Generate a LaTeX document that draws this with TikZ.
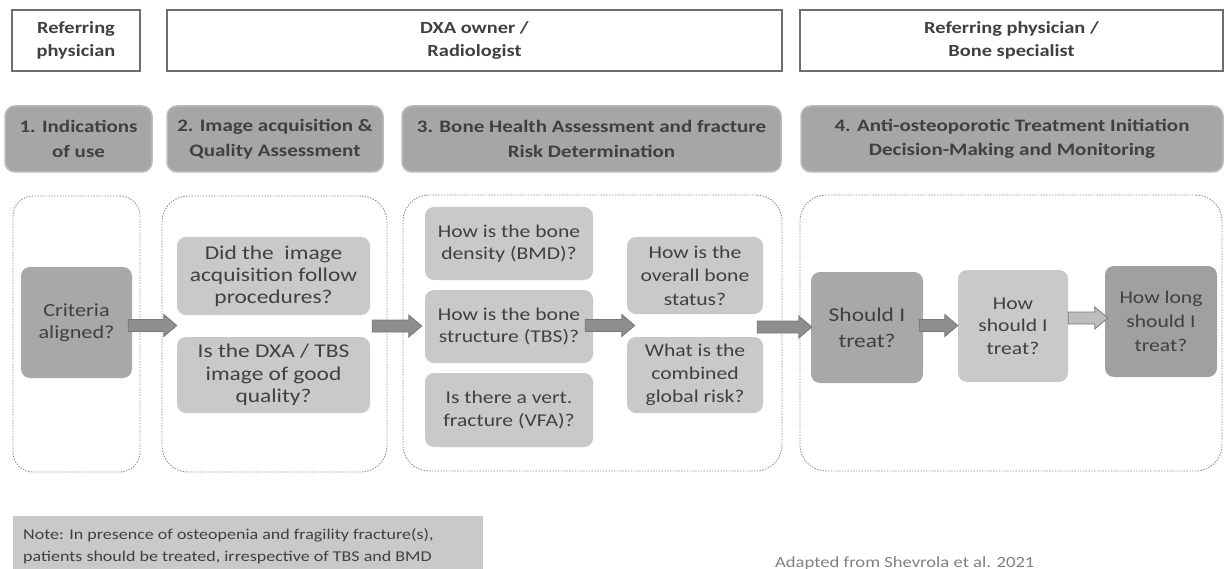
\documentclass[tikz,border=0pt]{standalone}
\usepackage{fontspec}
\setmainfont{Carlito}[FakeStretch=1.2]
\usetikzlibrary{calc}
\definecolor{txt}{HTML}{404040}
\definecolor{phasefill}{HTML}{A6A6A6}
\definecolor{phaseedge}{HTML}{BBBBBB}
\definecolor{qlight}{HTML}{C9C9C9}
\definecolor{qdark}{HTML}{A8A8A8}
\definecolor{qdarker}{HTML}{A0A0A0}
\definecolor{hdredge}{HTML}{6E6E6E}
\definecolor{dotc}{HTML}{8C8C8C}
\definecolor{arrfill}{HTML}{8E8E8E}
\definecolor{arredge}{HTML}{787878}
\definecolor{arrlight}{HTML}{BDBDBD}
\definecolor{srcc}{HTML}{808080}
\newcommand\blockarr[3][]{%
  \path[#1] let \p1=(#2), \p2=(#3) in
    (\x1,{\y1-6pt}) -- ({\x2-13pt},{\y1-6pt}) -- ({\x2-13pt},{\y1-11pt}) --
    (\x2,\y1) -- ({\x2-13pt},{\y1+11pt}) -- ({\x2-13pt},{\y1+6pt}) --
    (\x1,{\y1+6pt}) -- cycle;}
\begin{document}
\begin{tikzpicture}[x=1pt,y=-1pt,
  hdr/.style={draw=hdredge,line width=1.6pt,fill=white,inner sep=0pt,align=center,
    text=txt,font=\bfseries\fontsize{17}{23}\selectfont,minimum height=61pt},
  phase/.style={draw=phaseedge,line width=1.5pt,fill=phasefill,rounded corners=10pt,
    inner sep=0pt,align=center,text=txt,font=\bfseries\fontsize{17.5}{24.5}\selectfont,
    minimum height=66pt},
  cont/.style={draw=dotc,line width=0.9pt,dash pattern=on 1.4pt off 1.4pt,
    rounded corners=26pt,inner sep=0pt,minimum height=276pt},
  qbox/.style={rounded corners=9pt,inner sep=0pt,align=center,text=txt},
  light/.style={qbox,fill=qlight},
  dark/.style={qbox,fill=qdark},
  darker/.style={qbox,fill=qdarker},
  arr/.style={fill=arrfill,draw=arredge,line width=0.8pt},
  arrl/.style={fill=arrlight,draw=arredge,line width=0.8pt}]
\useasboundingbox (0,0) rectangle (1225,569);
% headers
\node[hdr,minimum width=128pt] (h1) at (76,40.5) {Referring\\physician};
\node[hdr,minimum width=615pt] (h2) at (474.5,40.5) {DXA owner /\\Radiologist};
\node[hdr,minimum width=423pt] (h3) at (1011.5,40.5) {Referring physician /\\Bone specialist};
% phases
\node[phase,minimum width=147pt] (p1) at (78.5,139) {1. Indications\\of use};
\node[phase,minimum width=216pt] (p2) at (275,139) {2. Image acquisition \&\\Quality Assessment};
\node[phase,minimum width=379pt] (p3) at (591.5,139) {3. Bone Health Assessment and fracture\\Risk Determination};
\node[phase,minimum width=422pt] (p4) at (1012,139) {4. Anti-osteoporotic Treatment Initiation\\Decision-Making and Monitoring};
% containers
\node[cont,minimum width=127pt,rounded corners=20pt] (c1) at (76.5,334) {};
\node[cont,minimum width=225pt] (c2) at (274.5,334) {};
\node[cont,minimum width=379pt] (c3) at (592.5,333) {};
\node[cont,minimum width=422pt] (c4) at (1011,333) {};
% boxes
\node[dark,minimum width=111pt,minimum height=111pt,font=\fontsize{18.5}{22}\selectfont] (crit) at (76.5,322.5) {Criteria\\aligned?};
\node[light,minimum width=193pt,minimum height=78pt,font=\fontsize{19.5}{22}\selectfont] (q1) at (273.5,276) {Did the\ \ image\\acquisition follow\\procedures?};
\node[light,minimum width=193pt,minimum height=76pt,font=\fontsize{19.5}{22.5}\selectfont] (q2) at (273.5,375) {Is the DXA / TBS\\image of good\\quality?};
\node[light,minimum width=168pt,minimum height=73pt,font=\fontsize{18}{21.5}\selectfont] (bmd) at (509,243.5) {How is the bone\\density (BMD)?};
\node[light,minimum width=168pt,minimum height=73pt,font=\fontsize{18}{21.5}\selectfont] (tbs) at (509,326.5) {How is the bone\\structure (TBS)?};
\node[light,minimum width=168pt,minimum height=74pt,font=\fontsize{18}{22.5}\selectfont] (vfa) at (509,410) {Is there a vert.\\fracture (VFA)?};
\node[light,minimum width=136pt,minimum height=77pt,font=\fontsize{18}{23.5}\selectfont] (ovr) at (695,275.5) {How is the\\overall bone\\status?};
\node[light,minimum width=136pt,minimum height=76pt,font=\fontsize{18}{23}\selectfont] (glob) at (695,375) {What is the\\combined\\global risk?};
\node[dark,minimum width=112pt,minimum height=111pt,font=\fontsize{19.5}{26}\selectfont] (sh) at (867,327.5) {Should I\\treat?};
\node[light,minimum width=110pt,minimum height=112pt,font=\fontsize{18}{22.5}\selectfont] (how) at (1013,326) {How\\should I\\treat?};
\node[darker,minimum width=112pt,minimum height=111pt,font=\fontsize{18}{24}\selectfont] (long) at (1161,321.5) {How long\\should I\\treat?};
% arrow end points
\coordinate (a1s) at ($(crit.east)+(-4,3)$);
\coordinate (a1e) at ($(q1.south west)!0.5!(q2.north west)$);
\coordinate (a2s) at ($(q1.south east)!0.5!(q2.north east)+(2,0)$);
\coordinate (a2e) at ($(tbs.west)+(-3,0)$);
\coordinate (a3s) at ($(tbs.east)+(-8,-1)$);
\coordinate (a3e) at ($(ovr.south west)!0.5!(glob.north west)+(8,0)$);
\coordinate (a4s) at ($(ovr.south east)!0.5!(glob.north east)+(-6,1.5)$);
\coordinate (a4e) at ($(sh.west)+(1,0)$);
\coordinate (a5s) at ($(sh.east)+(-4,-2)$);
\coordinate (a5e) at (how.west);
\coordinate (a6s) at ($(how.east)+(0,-8)$);
\coordinate (a6e) at ($(long.west)+(3,0)$);
\blockarr[arr]{a1s}{a1e}
\blockarr[arr]{a2s}{a2e}
\blockarr[arr]{a3s}{a3e}
\blockarr[arr]{a4s}{a4e}
\blockarr[arr]{a5s}{a5e}
\blockarr[arrl]{a6s}{a6e}
% note
\node[fill=qlight,minimum width=470pt,minimum height=53pt,inner sep=0pt] (note) at (248,542.5) {};
\node[anchor=west,text=txt,align=left,inner sep=0pt,font=\fontsize{15}{22.5}\selectfont] (notetxt) at (23,546)
  {Note: In presence of osteopenia and fragility fracture(s),\\patients should be treated, irrespective of TBS and BMD};
\node[anchor=base west,text=srcc,inner sep=0pt,font=\fontsize{15.5}{18}\selectfont] (src) at (775,567) {Adapted from Shevrola et al. 2021};
\end{tikzpicture}
\end{document}
